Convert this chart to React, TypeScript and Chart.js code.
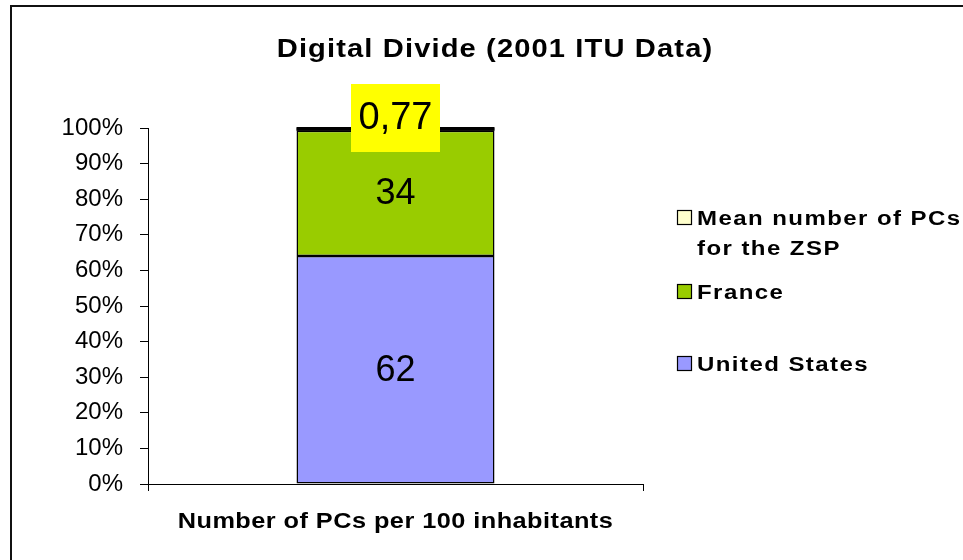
import React, { useEffect, useRef } from 'react';
import { Chart, registerables } from 'chart.js';

Chart.register(...registerables);

// ---- data ----
const categories = ['Number of PCs per 100 inhabitants'];
const seriesNames = ['United States', 'France', 'Mean number of PCs for the ZSP'];
const unitedStates = [62];
const france = [34];
const zspMean = [0.77];
const legendLines = [['Mean number of PCs', 'for the ZSP'], ['France'], ['United States']];
const chartTitle = 'Digital Divide (2001 ITU Data)';
const yTickStep = 10;

const colors = ['#9999FF', '#99CC00', '#FFFFCC'];
const FONT = "'Liberation Sans', Arial, Helvetica, sans-serif";

const rawSeries = [unitedStates, france, zspMean];
const totals = categories.map((_, i) => rawSeries.reduce((s, arr) => s + arr[i], 0));
const shares = rawSeries.map((arr) => arr.map((v, i) => (v / totals[i]) * 100));

const fmt = (v: number) => String(v).replace('.', ',');

// draw text horizontally stretched (the original's bold text is wide)
function wideText(ctx: any, text: string, x: number, y: number, sx: number, spacing: number, align: string) {
  ctx.save();
  ctx.letterSpacing = `${spacing}px`;
  ctx.translate(x, y);
  ctx.scale(sx, 1);
  ctx.textAlign = align;
  ctx.fillText(text, 0, 0);
  ctx.restore();
}

const decorPlugin = {
  id: 'decor',
  beforeDraw(chart: any) {
    const xs: any = chart.scales.x;
    if (xs && !xs.__patched) {
      const orig = xs.drawTitle.bind(xs);
      xs.drawTitle = function () {
        const ctx: any = chart.ctx;
        const cx = (xs.left + xs.right) / 2;
        ctx.save();
        ctx.letterSpacing = '0.4px';
        ctx.translate(cx, 0);
        ctx.scale(1.15, 1);
        ctx.translate(-cx, 0);
        orig();
        ctx.restore();
      };
      xs.__patched = true;
    }
  },
  afterDatasetsDraw(chart: any) {
    const ctx: any = chart.ctx;
    ctx.save();
    chart.data.datasets.forEach((ds: any, di: number) => {
      const meta = chart.getDatasetMeta(di);
      meta.data.forEach((el: any, i: number) => {
        const p = el.getProps(['x', 'y', 'base', 'width'], true);
        const text = fmt(rawSeries[di][i]);
        if (di === 2) {
          // thin ZSP segment renders as a thick dark edge
          ctx.fillStyle = '#000';
          ctx.fillRect(p.x - p.width / 2, p.y - 1, p.width, Math.max(3, p.base - p.y + 1));
          const bw = 89, bh = 68;
          const cy = p.y - 10;
          ctx.fillStyle = '#FFFF00';
          ctx.fillRect(p.x - bw / 2, cy - bh / 2, bw, bh);
          ctx.fillStyle = '#000';
          ctx.font = `38px ${FONT}`;
          ctx.textAlign = 'center';
          ctx.textBaseline = 'middle';
          ctx.fillText(text, p.x, cy + 1);
        } else {
          ctx.fillStyle = '#000';
          ctx.font = `36px ${FONT}`;
          ctx.textAlign = 'center';
          ctx.textBaseline = 'middle';
          ctx.fillText(text, p.x, (p.y + p.base) / 2 + 1);
        }
      });
    });
    ctx.restore();
  },
  afterDraw(chart: any) {
    const ctx: any = chart.ctx;
    ctx.save();
    // outer frame
    ctx.strokeStyle = '#111';
    ctx.lineWidth = 2;
    ctx.strokeRect(11, 6, 1200, 1200);
    // title
    ctx.fillStyle = '#000';
    ctx.font = `bold 26px ${FONT}`;
    ctx.textBaseline = 'alphabetic';
    wideText(ctx, chartTitle, 495, 57, 1.12, 1, 'center');
    // legend
    ctx.font = `bold 20px ${FONT}`;
    const rows = [
      { ds: 2, y: 225 },
      { ds: 1, y: 299 },
      { ds: 0, y: 371 },
    ];
    rows.forEach((r, k) => {
      const lines = legendLines[k];
      ctx.fillStyle = colors[r.ds];
      ctx.fillRect(677, r.y - 15, 15, 15);
      ctx.strokeStyle = '#000';
      ctx.lineWidth = 1.2;
      ctx.strokeRect(677.5, r.y - 14.5, 14, 14);
      ctx.fillStyle = '#000';
      lines.forEach((ln, j) => wideText(ctx, ln, 697, r.y + j * 30, 1.2, 1.2, 'left'));
    });
    ctx.restore();
  },
};

export default function App() {
  const ref = useRef<HTMLCanvasElement | null>(null);
  useEffect(() => {
    if (!ref.current) return;
    const chart = new Chart(ref.current, {
      type: 'bar',
      data: {
        labels: categories,
        datasets: rawSeries.map((_, di) => ({
          label: seriesNames[di],
          data: shares[di],
          backgroundColor: colors[di],
          borderColor: '#000',
          borderWidth: 1.5,
          borderSkipped: false,
          barPercentage: 0.4,
          categoryPercentage: 1,
        })),
      },
      options: {
        animation: false,
        responsive: false,
        maintainAspectRatio: false,
        layout: { padding: { top: 128, right: 320, bottom: 0, left: 0 } },
        plugins: {
          legend: { display: false },
          title: { display: false },
          tooltip: { enabled: false },
        },
        scales: {
          x: {
            stacked: true,
            offset: true,
            grid: { offset: true, drawOnChartArea: false, tickLength: 7, color: '#000', lineWidth: 1 },
            border: { color: '#000', width: 1 },
            ticks: { display: false },
            title: {
              display: true,
              text: categories[0],
              color: '#000',
              font: { family: FONT, size: 22, weight: 'bold' },
              padding: { top: 0, bottom: 25 },
            },
            afterFit: (s: any) => { s.height = 76; },
          },
          y: {
            stacked: true,
            min: 0,
            max: 100,
            grid: { drawOnChartArea: false, tickLength: 8, color: '#000', lineWidth: 1 },
            border: { color: '#000', width: 1 },
            ticks: {
              stepSize: yTickStep,
              color: '#000',
              padding: 17,
              font: { family: FONT, size: 24 },
              callback: (v: any) => `${v}%`,
            },
            afterFit: (s: any) => { s.width = 148; },
          },
        },
      } as any,
      plugins: [decorPlugin],
    });
    return () => chart.destroy();
  }, []);
  return (
    <div style={{ position: 'absolute', left: 0, top: 0, width: 963, height: 560, background: '#fff' }}>
      <canvas ref={ref} width={963} height={560} style={{ display: 'block', width: 963, height: 560 }} />
    </div>
  );
}
